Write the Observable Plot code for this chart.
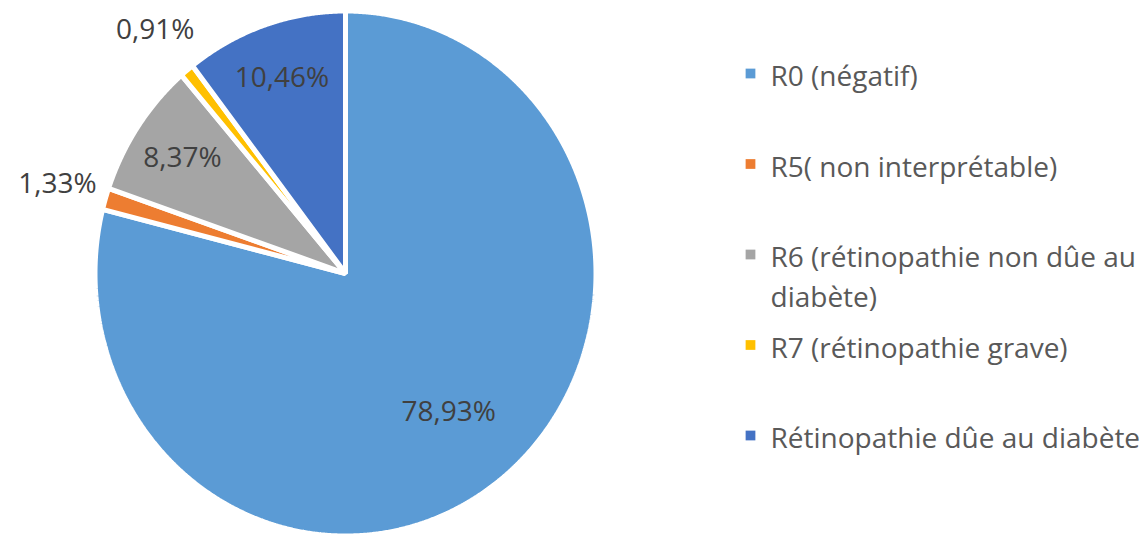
<!DOCTYPE html>
<html>
<head>
<meta charset="utf-8">
<script src="https://cdn.jsdelivr.net/npm/d3@7"></script>
<script src="https://cdn.jsdelivr.net/npm/@observablehq/plot@0.6"></script>
<style>
  html, body { margin: 0; padding: 0; background: #ffffff; }
  #chart svg { display: block; }
</style>
</head>
<body>
<div id="chart"></div>
<script>
// ---- data ----
const categories = [
  "R0 (négatif)",
  "R5( non interprétable)",
  "R6 (rétinopathie non dûe au diabète)",
  "R7 (rétinopathie grave)",
  "Rétinopathie dûe au diabète"
];
const legendLabels = [
  "R0 (négatif)",
  "R5( non interprétable)",
  "R6 (rétinopathie non dûe au\ndiabète)",
  "R7 (rétinopathie grave)",
  "Rétinopathie dûe au diabète"
];
const values = [78.93, 1.33, 8.37, 0.91, 10.46];
const valueLabels = ["78,93%", "1,33%", "8,37%", "0,91%", "10,46%"];
const colors = ["#5B9BD5", "#ED7D31", "#A5A5A5", "#FFC000", "#4472C4"];

// ---- layout ----
const W = 1148, H = 534;
const cx = 345, cy = 273, rx = 250.5, ry = 262.5;
const font = "'Open Sans', 'Noto Sans', sans-serif";

const rows = categories.map((c, i) => ({cat: c, value: values[i], label: valueLabels[i], legend: legendLabels[i]}));
const arcs = d3.pie().sort(null).value(d => d.value).startAngle(0).endAngle(2 * Math.PI)(rows);

const pt = (a, r) => [cx + rx * r * Math.sin(a), cy - ry * r * Math.cos(a)];

const slicePts = [];
for (const a of arcs) {
  slicePts.push({cat: a.data.cat, x: cx, y: cy});
  const n = Math.max(2, Math.ceil((a.endAngle - a.startAngle) / 0.005));
  for (let k = 0; k <= n; k++) {
    const ang = a.startAngle + (a.endAngle - a.startAngle) * k / n;
    const [x, y] = pt(ang, 1);
    slicePts.push({cat: a.data.cat, x, y});
  }
}

const labelPts = arcs.map(a => {
  const mid = (a.startAngle + a.endAngle) / 2;
  const v = a.data.value;
  const r = v < 2 ? 1.2 : v > 50 ? 0.67 : 0.785;
  const [x, y] = pt(mid, r);
  return {x, y, text: a.data.label};
});

const legendX = 750, legendTextX = 770, legendY0 = 73, legendStep = 90.5, lineH = 40;
const legendPts = rows.map((d, i) => {
  const lines = d.legend.split("\n").length;
  const y = legendY0 + i * legendStep;
  return {cat: d.cat, text: d.legend, y, ty: y + (lines - 1) * lineH / 2};
});

const chart = Plot.plot({
  width: W,
  height: H,
  margin: 0,
  x: {domain: [0, W], range: [0, W], axis: null},
  y: {domain: [0, H], range: [0, H], axis: null},
  color: {domain: categories, range: colors},
  style: {fontFamily: font, background: "#ffffff"},
  marks: [
    Plot.line(slicePts, {x: "x", y: "y", z: "cat", fill: "cat", stroke: "white", strokeWidth: 5, strokeLinejoin: "miter", curve: "linear-closed"}),
    Plot.text(labelPts, {x: "x", y: "y", text: "text", fill: "#404040", fontSize: 28, textAnchor: "middle"}),
    Plot.dot(legendPts, {x: legendX, y: "y", fill: "cat", symbol: "square", r: 5.5, stroke: null}),
    Plot.text(legendPts, {x: legendTextX, y: "ty", text: "text", fill: "#595959", fontSize: 28, textAnchor: "start", lineHeight: lineH / 28})
  ]
});
document.getElementById("chart").appendChild(chart);
</script>
</body>
</html>
